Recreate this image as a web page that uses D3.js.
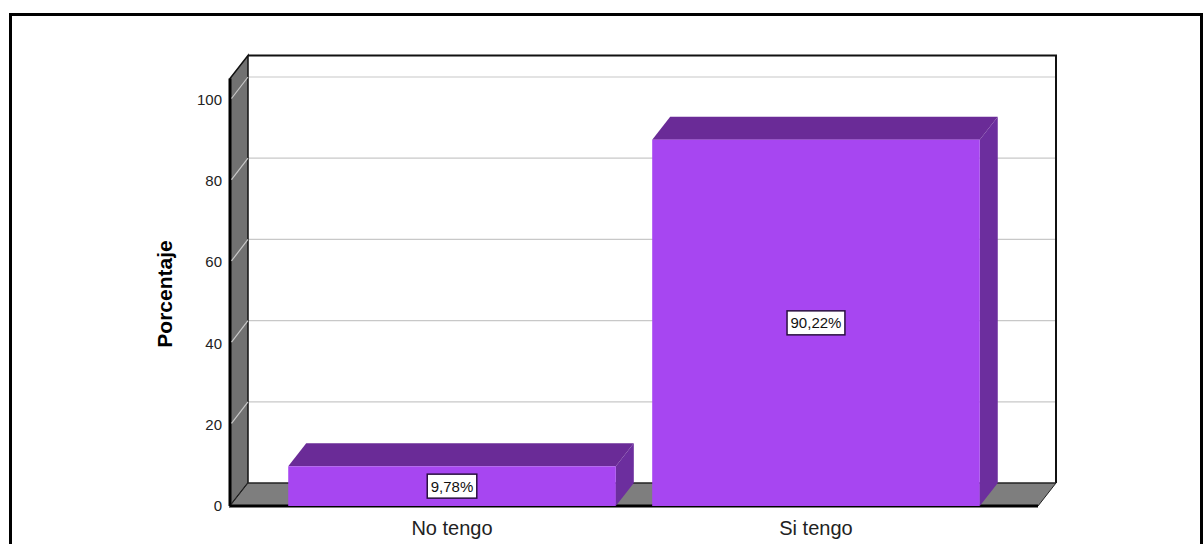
<!DOCTYPE html>
<html>
<head>
<meta charset="utf-8">
<script src="https://cdn.jsdelivr.net/npm/d3@7"></script>
<style>
  html, body { margin: 0; padding: 0; background: #ffffff; }
  svg { display: block; }
  text { font-family: Arial, "Liberation Sans", sans-serif; }
</style>
</head>
<body>
<svg id="chart" width="1203" height="544"></svg>
<script>
const categories = ["No tengo", "Si tengo"];
const values = [9.78, 90.22];
const valueLabels = ["9,78%", "90,22%"];
const yTicks = [0, 20, 40, 60, 80, 100];
const yTitle = "Porcentaje";

const svg = d3.select("#chart");
const W = 1203, H = 544;

// 3D depth offset
const DX = 18, DY = -23;
const yMax = 105.3;

const x = d3.scaleBand().domain(categories).range([230, 1038]).paddingInner(0.1).paddingOuter(0.16);
const y = d3.scaleLinear().domain([0, 100]).range([506, 100]);

const x0 = 230, x1 = 1038;
const yb = y(0), yt = y(yMax);

// outer frame
svg.append("rect").attr("x", 10.5).attr("y", 14.5).attr("width", 1191).attr("height", 540)
  .attr("fill", "none").attr("stroke", "#000").attr("stroke-width", 3);

// back wall
svg.append("rect").attr("x", x0 + DX).attr("y", yt + DY).attr("width", x1 - x0).attr("height", yb - yt)
  .attr("fill", "#ffffff");

// back wall gridlines
svg.append("g").selectAll("line").data(yTicks.filter(d => d > 0)).join("line")
  .attr("x1", x0 + DX).attr("x2", x1 + DX)
  .attr("y1", d => y(d) + DY).attr("y2", d => y(d) + DY)
  .attr("stroke", "#c8c8c8").attr("stroke-width", 1.2);

// back wall top and right edges
svg.append("path")
  .attr("d", `M${x0 + DX},${yt + DY} L${x1 + DX},${yt + DY} L${x1 + DX},${yb + DY}`)
  .attr("fill", "none").attr("stroke", "#111").attr("stroke-width", 2);

// side (left) wall
svg.append("path")
  .attr("d", `M${x0},${yt} L${x0 + DX},${yt + DY} L${x0 + DX},${yb + DY} L${x0},${yb} Z`)
  .attr("fill", "#717171").attr("stroke", "#111").attr("stroke-width", 1.5);
svg.append("line").attr("x1", x0).attr("x2", x0).attr("y1", yt).attr("y2", yb)
  .attr("stroke", "#000").attr("stroke-width", 3);

// side wall gridlines
svg.append("g").selectAll("line").data(yTicks.filter(d => d > 0)).join("line")
  .attr("x1", x0 + 1.5).attr("x2", x0 + DX)
  .attr("y1", d => y(d) - 1.5).attr("y2", d => y(d) + DY)
  .attr("stroke", "#c8c8c8").attr("stroke-width", 1.2);

// floor
svg.append("path")
  .attr("d", `M${x0},${yb} L${x0 + DX},${yb + DY} L${x1 + DX},${yb + DY} L${x1},${yb} Z`)
  .attr("fill", "#7e7e7e").attr("stroke", "#222").attr("stroke-width", 1);
svg.append("line").attr("x1", x0).attr("x2", x1).attr("y1", yb).attr("y2", yb)
  .attr("stroke", "#000").attr("stroke-width", 3);
svg.append("line").attr("x1", x0 + DX).attr("x2", x1 + DX).attr("y1", yb + DY).attr("y2", yb + DY)
  .attr("stroke", "#222").attr("stroke-width", 1.2);

// bars
const bars = svg.append("g");
categories.forEach((c, i) => {
  const bx = x(c), bw = x.bandwidth();
  const top = y(values[i]);
  // right side
  bars.append("path")
    .attr("d", `M${bx + bw},${top} L${bx + bw + DX},${top + DY} L${bx + bw + DX},${yb + DY} L${bx + bw},${yb} Z`)
    .attr("fill", "#6c2e9e");
  // top
  bars.append("path")
    .attr("d", `M${bx},${top} L${bx + DX},${top + DY} L${bx + bw + DX},${top + DY} L${bx + bw},${top} Z`)
    .attr("fill", "#6a2b97");
  // front
  bars.append("rect").attr("x", bx).attr("y", top).attr("width", bw).attr("height", yb - top)
    .attr("fill", "#a746f1");
});

// value labels
const labG = svg.append("g");
categories.forEach((c, i) => {
  const cx = x(c) + x.bandwidth() / 2;
  const cy = (y(values[i]) + yb) / 2;
  const t = labG.append("text").attr("x", cx).attr("y", cy + 5.5)
    .attr("text-anchor", "middle").attr("font-size", 15).attr("fill", "#111")
    .text(valueLabels[i]);
  const bb = t.node().getBBox();
  labG.insert("rect", "text")
    .attr("x", cx - bb.width / 2 - 3.5).attr("y", cy - 12)
    .attr("width", bb.width + 7).attr("height", 24)
    .attr("fill", "#ffffff").attr("stroke", "#2a1040").attr("stroke-width", 1.5);
});

// y tick labels
svg.append("g").selectAll("text").data(yTicks).join("text")
  .attr("x", 222).attr("y", d => y(d) + 5)
  .attr("text-anchor", "end").attr("font-size", 15).attr("fill", "#222")
  .text(d => d);

// x labels
svg.append("g").selectAll("text").data(categories).join("text")
  .attr("x", d => x(d) + x.bandwidth() / 2).attr("y", 535)
  .attr("text-anchor", "middle").attr("font-size", 20).attr("fill", "#222")
  .text(d => d);

// y title
svg.append("text")
  .attr("transform", "translate(172,294) rotate(-90)")
  .attr("text-anchor", "middle").attr("font-size", 21).attr("font-weight", "bold").attr("fill", "#000")
  .text(yTitle);
</script>
</body>
</html>
